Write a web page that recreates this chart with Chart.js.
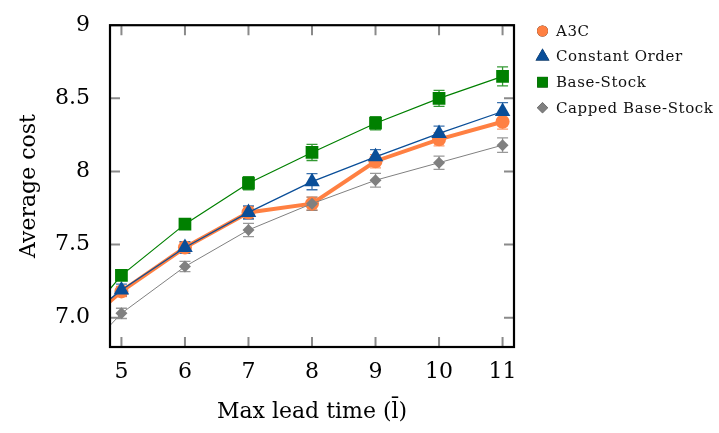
<!DOCTYPE html>
<html>
<head>
<meta charset="utf-8">
<script src="https://cdn.jsdelivr.net/npm/chart.js@4.4.1/dist/chart.umd.min.js"></script>
<style>
  html, body { margin: 0; padding: 0; background: #fff; }
  #wrap { width: 719px; height: 433px; }
</style>
</head>
<body>
<div id="wrap"><canvas id="costChart"></canvas></div>
<script>
    // data (x = 4 is outside the axis, only the line stubs show)
    const leadTimes = [4, 5, 6, 7, 8, 9, 10, 11];
    const a3cCost = [6.80, 7.18, 7.48, 7.72, 7.78, 8.07, 8.22, 8.34];
    const constantCost = [6.84, 7.19, 7.48, 7.72, 7.93, 8.10, 8.26, 8.41];
    const baseStockCost = [6.77, 7.29, 7.64, 7.92, 8.13, 8.33, 8.50, 8.65];
    const cappedCost = [6.57, 7.03, 7.35, 7.60, 7.78, 7.94, 8.06, 8.18];

    const a3cErr = [null, 0.035, 0.035, 0.04, 0.045, 0.045, 0.045, 0.05];
    const constantErr = [null, 0.04, 0.04, 0.045, 0.055, 0.05, 0.05, 0.06];
    const baseStockErr = [null, 0.03, 0.03, 0.045, 0.055, 0.045, 0.055, 0.065];
    const cappedErr = [null, 0.035, 0.035, 0.045, 0.045, 0.047, 0.045, 0.05];

    const xTicks = [5, 6, 7, 8, 9, 10, 11];
    const yTicks = [7.0, 7.5, 8, 8.5, 9];
    const yTickLabels = ['7.0', '7.5', '8', '8.5', '9'];

    const serif = "'DejaVu Serif', 'Liberation Serif', serif";

    function toPoints(values) {
        return values.map(function(v, i) { return { x: leadTimes[i], y: v }; });
    }

    const series = [
        { label: 'A3C', values: a3cCost, err: a3cErr, color: '#FF8042', width: 4, style: 'circle', radius: 7, legendRadius: 5.5, order: 4 },
        { label: 'Constant Order', values: constantCost, err: constantErr, color: '#0A4E98', width: 1.3, style: 'triangle', radius: 9, legendRadius: 8, order: 3 },
        { label: 'Base-Stock', values: baseStockCost, err: baseStockErr, color: '#008000', width: 1.2, style: 'rect', radius: 9, legendRadius: 7.5, order: 2 },
        { label: 'Capped Base-Stock', values: cappedCost, err: cappedErr, color: '#808080', width: 1, style: 'rectRot', radius: 6, legendRadius: 5.5, order: 1 }
    ];

    // error bars, under the markers, clipped to the plot box
    const errorBarPlugin = {
        id: 'errorBars',
        beforeDatasetsDraw: function(chart) {
            const ctx = chart.ctx;
            const area = chart.chartArea;
            const xs = chart.scales.x, ys = chart.scales.y;
            ctx.save();
            ctx.beginPath();
            ctx.rect(area.left, area.top, area.right - area.left, area.bottom - area.top);
            ctx.clip();
            series.forEach(function(s) {
                ctx.strokeStyle = s.color;
                ctx.globalAlpha = 0.8;
                ctx.lineWidth = 1.3;
                s.values.forEach(function(v, i) {
                    const e = s.err[i];
                    if (e === null) return;
                    const px = xs.getPixelForValue(leadTimes[i]);
                    const top = ys.getPixelForValue(v + e);
                    const bot = ys.getPixelForValue(v - e);
                    ctx.beginPath();
                    ctx.moveTo(px, top); ctx.lineTo(px, bot);
                    ctx.moveTo(px - 5.5, top); ctx.lineTo(px + 5.5, top);
                    ctx.moveTo(px - 5.5, bot); ctx.lineTo(px + 5.5, bot);
                    ctx.stroke();
                });
            });
            ctx.restore();
        }
    };

    // box frame with inward ticks on all four sides
    const framePlugin = {
        id: 'frame',
        afterDatasetsDraw: function(chart) {
            const ctx = chart.ctx;
            const a = chart.chartArea;
            const xs = chart.scales.x, ys = chart.scales.y;
            ctx.save();
            ctx.strokeStyle = '#8a8a8a';
            ctx.lineWidth = 2;
            ctx.beginPath();
            xTicks.forEach(function(t) {
                const px = xs.getPixelForValue(t);
                ctx.moveTo(px, a.bottom); ctx.lineTo(px, a.bottom - 10);
                ctx.moveTo(px, a.top); ctx.lineTo(px, a.top + 10);
            });
            yTicks.forEach(function(t) {
                const py = ys.getPixelForValue(t);
                ctx.moveTo(a.left, py); ctx.lineTo(a.left + 10, py);
                ctx.moveTo(a.right, py); ctx.lineTo(a.right - 10, py);
            });
            ctx.stroke();
            ctx.strokeStyle = '#000';
            ctx.lineWidth = 2.2;
            ctx.strokeRect(a.left, a.top, a.right - a.left, a.bottom - a.top);
            ctx.restore();
        }
    };

    // legend placed to the right of the box, no border
    const sideLegendPlugin = {
        id: 'sideLegend',
        afterDraw: function(chart) {
            const ctx = chart.ctx;
            ctx.save();
            ctx.font = '15px ' + serif;
            ctx.letterSpacing = '0.6px';
            ctx.textBaseline = 'middle';
            series.forEach(function(s, i) {
                const y = 31 + i * 25.6;
                Chart.helpers.drawPoint(ctx, {
                    pointStyle: s.style,
                    radius: s.legendRadius,
                    rotation: 0,
                    borderWidth: 0
                }, 542.5, y);
                ctx.fillStyle = s.color;
                ctx.fill();
                ctx.fillStyle = '#111';
                ctx.fillText(s.label, 556, y + 1);
            });
            ctx.restore();
        }
    };

    const datasets = series.map(function(s) {
        return {
            label: s.label,
            data: toPoints(s.values),
            borderColor: s.color,
            backgroundColor: s.color,
            borderWidth: s.width,
            pointStyle: s.style,
            pointRadius: s.radius,
            pointBorderWidth: 0,
            pointBackgroundColor: s.color,
            tension: 0,
            order: s.order
        };
    });

    const ctx = document.getElementById('costChart').getContext('2d');
    new Chart(ctx, {
        type: 'line',
        data: { datasets: datasets },
        options: {
            responsive: true,
            maintainAspectRatio: false,
            animation: false,
            layout: { padding: { left: 0, right: 205, top: 14, bottom: 0 } },
            plugins: {
                legend: { display: false },
                tooltip: { enabled: false }
            },
            scales: {
                x: {
                    type: 'linear',
                    min: 4.82,
                    max: 11.18,
                    grid: { display: false },
                    border: { display: false },
                    afterFit: function(scale) { scale.height = 86; },
                    afterBuildTicks: function(scale) {
                        scale.ticks = xTicks.map(function(v) { return { value: v }; });
                    },
                    ticks: {
                        color: '#000',
                        padding: 4,
                        maxRotation: 0,
                        font: { family: serif, size: 22 }
                    },
                    title: {
                        display: true,
                        text: 'Max lead time (l\u0304)',
                        color: '#000',
                        padding: { top: 0, bottom: 8 },
                        font: { family: serif, size: 22 }
                    }
                },
                y: {
                    min: 6.8,
                    max: 9,
                    grid: { display: false },
                    border: { display: false },
                    afterFit: function(scale) { scale.width = 110; },
                    afterBuildTicks: function(scale) {
                        scale.ticks = yTicks.map(function(v) { return { value: v }; });
                    },
                    ticks: {
                        color: '#000',
                        padding: 12,
                        font: { family: serif, size: 22 },
                        callback: function(value) {
                            const i = yTicks.indexOf(value);
                            return i >= 0 ? yTickLabels[i] : '';
                        }
                    },
                    title: {
                        display: true,
                        text: 'Average cost',
                        color: '#000',
                        padding: { top: 16, bottom: 0 },
                        font: { family: serif, size: 22 }
                    }
                }
            }
        },
        plugins: [errorBarPlugin, framePlugin, sideLegendPlugin]
    });
</script>
</body>
</html>
